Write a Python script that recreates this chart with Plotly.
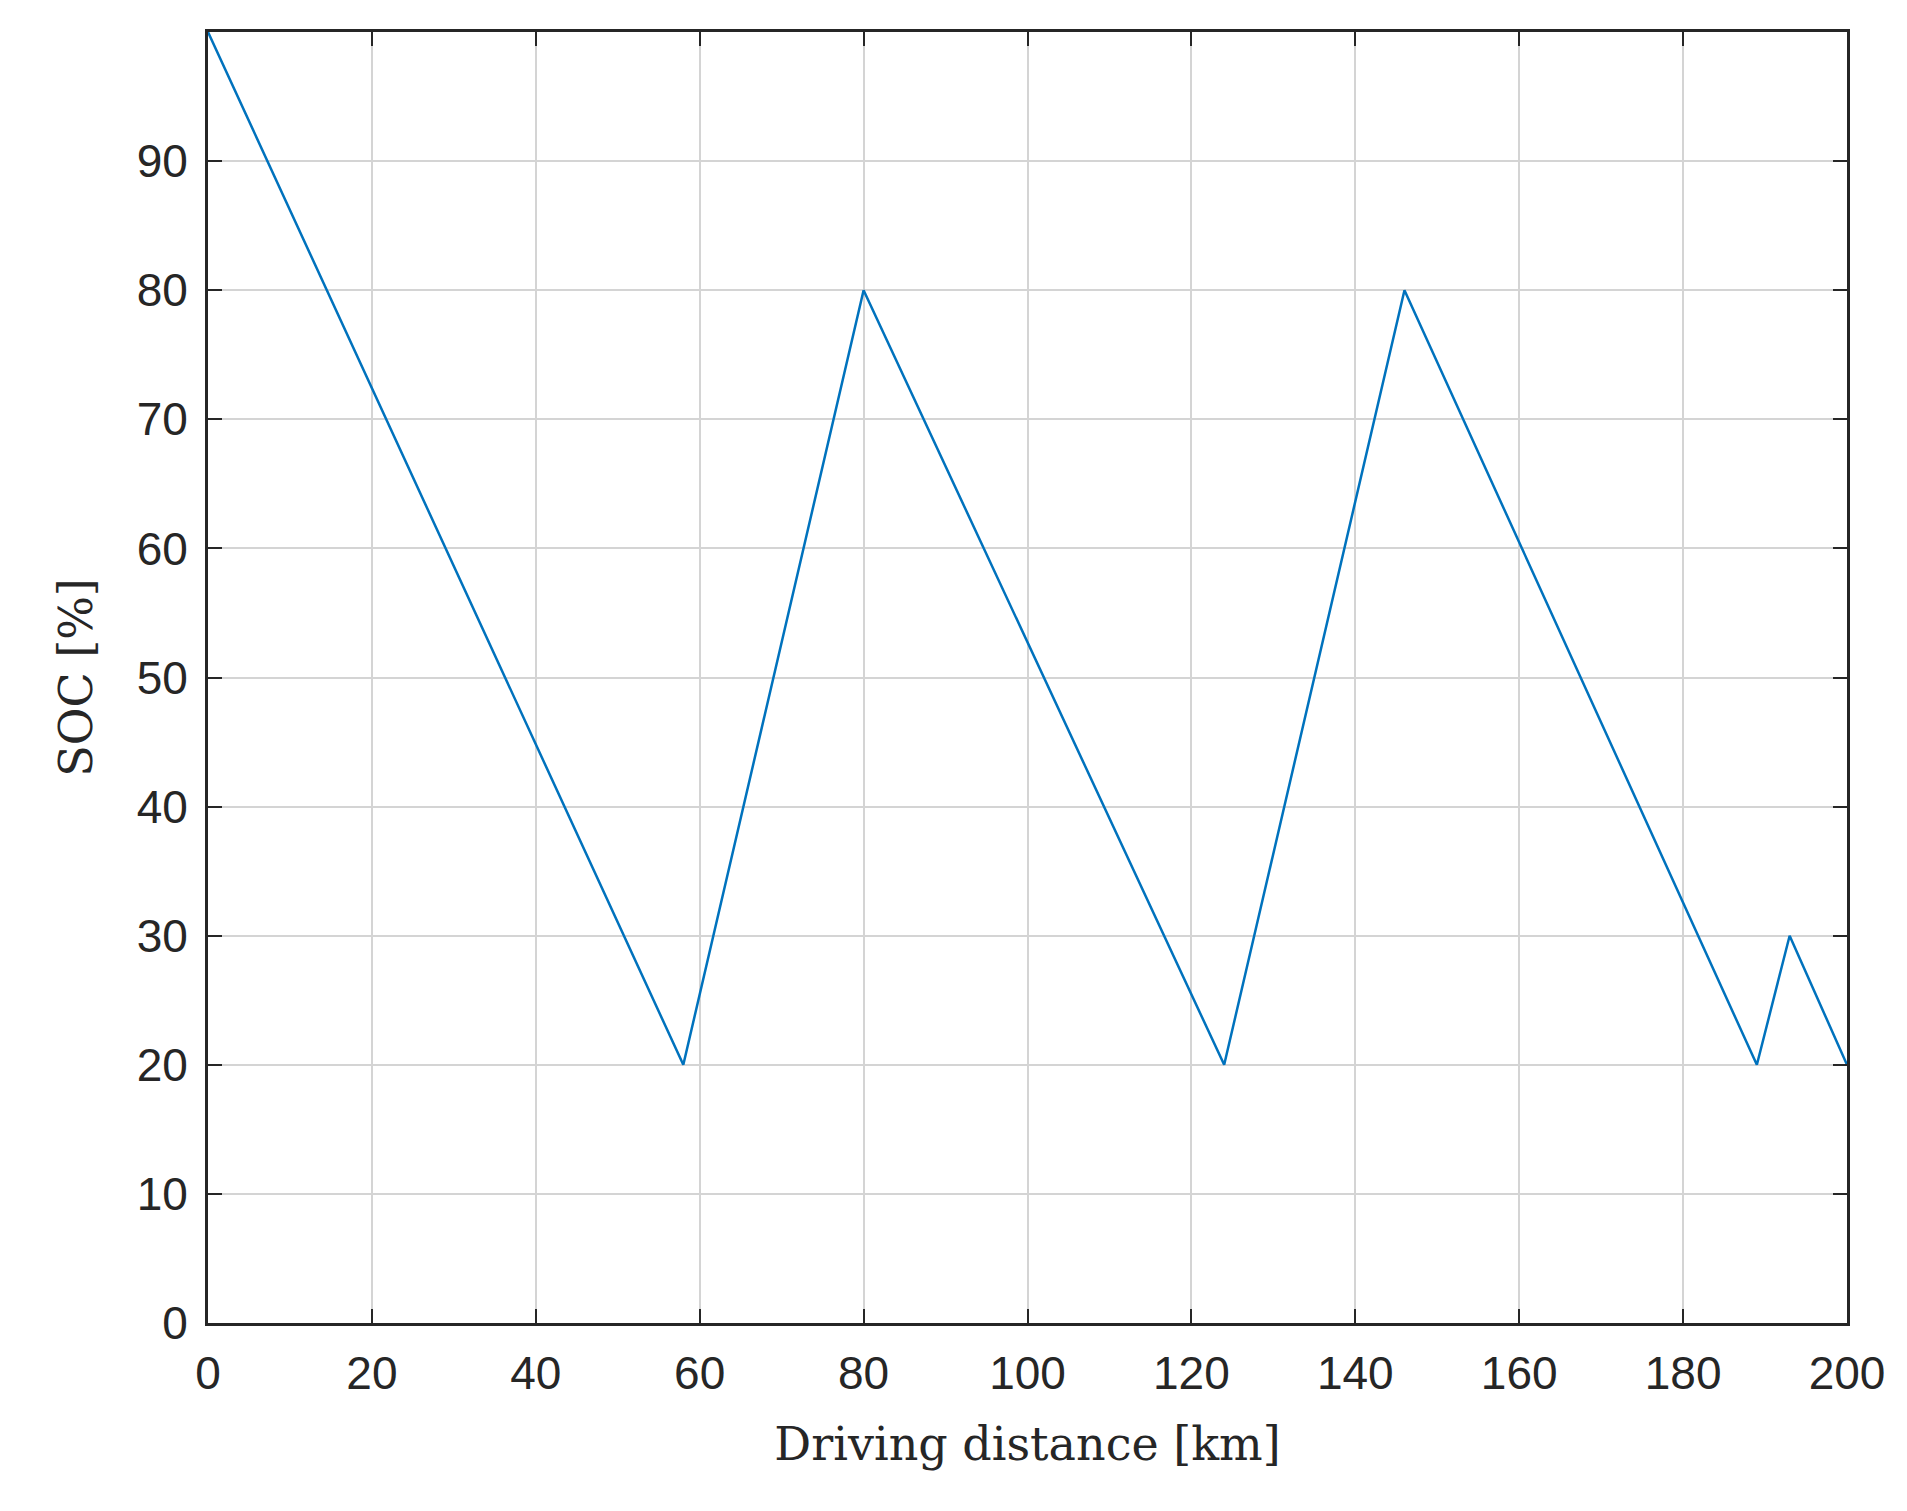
import plotly.graph_objects as go

# SOC profile along the route
distance_km = [0, 58, 80, 124, 146, 189, 193, 200]
soc_pct = [100, 20, 80, 20, 80, 20, 30, 20]

fig = go.Figure()
fig.add_trace(go.Scatter(x=distance_km, y=soc_pct, mode='lines',
                         line=dict(color='#0072BD', width=2.5)))

axis_common = dict(showline=True, linecolor='#262626', linewidth=3, mirror='ticks',
                   ticks='inside', ticklen=14, tickwidth=2, tickcolor='#262626',
                   showgrid=True, gridcolor='#d4d4d4', gridwidth=2, zeroline=False,
                   tickfont=dict(family='Liberation Sans', size=46, color='#262626'))

fig.update_xaxes(range=[0, 200], dtick=20,
                 title=dict(text='Driving distance [km]', standoff=30,
                            font=dict(family='DejaVu Serif', size=46, color='#262626')),
                 **axis_common)
fig.update_yaxes(range=[0, 100], dtick=10,
                 title=dict(text='SOC [%]', standoff=30,
                            font=dict(family='DejaVu Serif', size=46, color='#262626')),
                 **axis_common)
fig.update_xaxes(ticklabelstandoff=8)
fig.update_yaxes(ticklabelstandoff=8)

fig.update_layout(width=1907, height=1511, plot_bgcolor='white', paper_bgcolor='white',
                  showlegend=False, margin=dict(l=200, r=68, t=24, b=196))

fig.write_html("out.html")
